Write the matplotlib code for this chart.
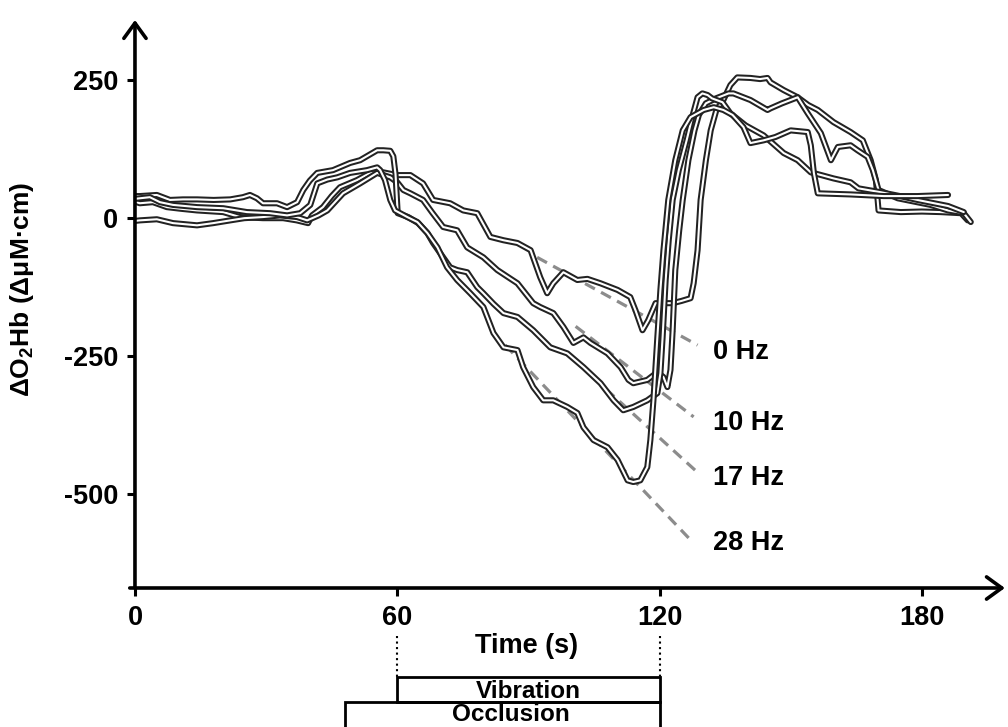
import matplotlib
matplotlib.use('Agg')
import matplotlib.pyplot as plt
from matplotlib.patches import Rectangle

plt.rcParams['font.family'] = ['Liberation Sans', 'DejaVu Sans']
plt.rcParams['font.weight'] = 'bold'
plt.rcParams['mathtext.fontset'] = 'custom'
plt.rcParams['mathtext.rm'] = 'Liberation Sans:bold'
plt.rcParams['mathtext.default'] = 'rm'
plt.rcParams['axes.unicode_minus'] = False

# ---- traces: time (s) and delta O2Hb (uM*cm) per vibration frequency ----
t_0hz = [0, 1.1, 4.1, 7.3, 10.5, 14.2, 20.2, 24, 29.3, 33.9, 37, 39.6, 40.5, 43, 45, 46.9,
         50.8, 53.8, 56.8, 60, 63, 65.9, 68.2, 72.1, 75.1, 78.3, 81.3, 84.3, 87.5, 90.5,
         92.7, 94.3, 95.7, 98, 101.2, 103.5, 106.5, 110.4, 113.3, 114.5, 116.1, 117.4,
         119.1, 123, 125, 127.1, 127.8, 128.7, 129.4, 130.6, 131.7, 133, 134.6, 136.2,
         137.8, 140.8, 143, 144.7, 145.4, 148.4, 151.6, 154, 156.2, 159.8, 163.7, 166.5,
         168.3, 169.5, 170.1, 175.2, 180, 184.3, 189, 190.5]
o2hb_0hz = [30, 27, 29, 20, 17, 14, 11, 2, 0, 0, -4, -9, 5, 20, 40, 56,
            69, 82, 83, 78, 78, 63, 33, 27, 14, 9, -34, -40, -45, -58,
            -107, -136, -118, -98, -112, -110, -118, -130, -143, -167, -203, -185,
            -154, -154, -150, -145, -118, -58, 33, 105, 159, 196, 214, 241,
            255, 254, 252, 254, 246, 232, 219, 205, 196, 174, 156, 141,
            105, 69, 14, 11, 12, 11, 9, -4]

t_10hz = [0, 1.1, 5, 8.7, 14.2, 17.9, 21.8, 25, 29.3, 33.2, 37.1, 39.4, 42, 44, 47.6,
          51.5, 55.4, 58.4, 60, 61.4, 63, 65.9, 68, 70.5, 73.7, 76, 79.7, 82.9, 85, 87.5,
          91.1, 92.7, 95.7, 98, 100.3, 102.6, 104.2, 108.1, 111.1, 112.9, 114, 117.2,
          119.5, 120.9, 121.8, 122.5, 123, 123.6, 124.5, 125.3, 126.6, 128, 129, 130.6,
          132.9, 135.8, 136.9, 140.8, 144.7, 145.4, 148, 151.6, 153.9, 156.9, 159.2,
          160.8, 163.7, 165.3, 167.6, 168.8, 170.1, 174.5, 182, 186, 189.6, 191.2]
o2hb_10hz = [-5, -4, -2, -9, -13, -9, -4, 0, 2, 5, 2, -4, 5, 14, 45,
             63, 82, 74, 65, 51, 45, 33, 10, -16, -22, -53, -71, -94, -105, -118,
             -154, -161, -172, -197, -226, -216, -226, -245, -270, -293, -299, -293,
             -279, -288, -306, -275, -203, -94, -22, 33, 105, 159, 187, 208,
             217, 226, 226, 214, 196, 199, 208, 219, 190, 154, 105,
             129, 132, 123, 111, 87, 51, 36, 24, 14, 9, -7]

t_17hz = [0, 1.1, 5, 8, 11, 14.2, 18, 21.8, 24.7, 26.3, 27.9, 29.3, 32.5, 34.8, 37.1,
          38.5, 40, 41.7, 45.3, 49.2, 51.5, 55.4, 56.8, 58.4, 59.1, 59.6, 60.1, 62.5,
          64.8, 66.9, 68.2, 70.5, 72.1, 73.7, 76, 78.3, 79.7, 82, 84.3, 87.5, 91.1, 95,
          98.9, 102.6, 106.5, 109.5, 111.7, 114, 117.2, 119.5, 120.2, 120.7, 121.4,
          122.1, 123, 124.4, 126.2, 127.6, 128.7, 129.8, 131, 132, 134.4, 136.2, 139.7,
          143.8, 148.4, 151.6, 154.6, 157, 159.8, 163.7, 165.5, 170.6, 175, 179, 186,
          189.6]
o2hb_17hz = [40, 40, 42, 33, 34, 34, 33, 34, 38, 42, 36, 27, 27, 20, 29,
             51, 68, 82, 87, 100, 105, 123, 123, 122, 112, 80, 9, 2,
             -9, -27, -45, -71, -89, -94, -98, -125, -136, -155, -172, -179, -203, -234,
             -245, -270, -299, -330, -348, -342, -330, -317, -281, -216, -112,
             -40, 33, 87, 141, 187, 219, 226, 223, 217, 210, 190, 168,
             150, 118, 105, 83, 78, 72, 65, 54, 47, 40, 33, 22,
             11]

t_28hz = [0, 1.1, 3.4, 5.7, 8.7, 14.2, 20.2, 25.6, 30.9, 34.8, 37.8, 40.1, 41.7, 44,
          46.3, 49.2, 53.1, 55.4, 56.1, 57.2, 58.4, 59.5, 62.3, 64.6, 66.9, 69.2, 71.4,
          73.7, 76.7, 79.7, 82, 84.3, 87.5, 88.8, 91.1, 93.4, 95.7, 98.9, 101.2, 102.6,
          104.9, 108.1, 110.4, 112.7, 114, 115.6, 117.2, 117.9, 118.6, 119.5, 120.2,
          120.9, 122, 123.6, 125.3, 127.1, 130.1, 132.4, 134.6, 136.7, 139.2, 140.8,
          143.8, 146.5, 150, 153.9, 154.6, 155.3, 156.2, 163.7, 171.3, 179, 186]
o2hb_28hz = [35, 36, 38, 29, 24, 20, 18, 11, 9, 5, 9, 24, 63, 70,
             74, 82, 87, 92, 87, 69, 33, 14, 2, -7, -27, -53, -89,
             -112, -136, -161, -208, -234, -239, -270, -306, -330, -330, -342, -353, -379,
             -402, -415, -438, -475, -478, -475, -451, -402, -330, -216, -130,
             -58, 33, 105, 159, 183, 196, 201, 196, 187, 165, 136,
             141, 147, 159, 156, 132, 82, 45, 43, 40, 40, 42]

# linear fits over the occlusion slope: (t_start, t_end), (y_start, y_end)
freq_labels = ['0 Hz', '10 Hz', '17 Hz', '28 Hz']
fit_t = [(92, 128.7), (100.8, 127.8), (98.5, 128.2), (84.7, 127.1)]
fit_y = [(-71, -230), (-196, -360), (-243, -457), (-230, -583)]
label_y = [-243, -371, -471, -589]

vibration_window = (60, 120)
occlusion_window = (48, 120)

fig = plt.figure(figsize=(10.08, 7.27), dpi=100)
ax = fig.add_axes([0.1339, 0.1912, 0.863, 0.7813])
ax.set_xlim(0, 199)
ax.set_ylim(-670, 359)

# dashed fit lines + frequency labels
for (t0, t1), (y0, y1), lab, ly in zip(fit_t, fit_y, freq_labels, label_y):
    ax.plot([t0, t1], [y0, y1], color='#8c8c8c', lw=2.3, ls=(0, (3.5, 2.2)), zorder=2)
    ax.text(132.2, ly, lab, fontsize=19.5, ha='left', va='center', clip_on=False)

# hollow traces: thick dark stroke with a thin white core
for t, v in [(t_0hz, o2hb_0hz), (t_10hz, o2hb_10hz), (t_17hz, o2hb_17hz), (t_28hz, o2hb_28hz)]:
    ax.plot(t, v, color='#222222', lw=4.4, solid_joinstyle='round', solid_capstyle='round', zorder=3)
    ax.plot(t, v, color='white', lw=1.5, solid_joinstyle='round', solid_capstyle='round', zorder=3)

# axes with arrow heads
for s in ax.spines.values():
    s.set_visible(False)
arrow = dict(arrowstyle='->,head_length=0.55,head_width=0.4', lw=2.6, color='black',
             shrinkA=0, shrinkB=0, mutation_scale=20)
ax.annotate('', xy=(0, 1), xytext=(0, 0), xycoords='axes fraction', arrowprops=arrow)
ax.annotate('', xy=(1, 0), xytext=(-0.006, 0), xycoords='axes fraction', arrowprops=arrow)

ax.set_xticks([0, 60, 120, 180])
ax.set_yticks([250, 0, -250, -500])
ax.tick_params(length=6, width=2.2, labelsize=19.5, pad=6)

fig.text(0.0218, 0.6025, r'$\Delta$O$_2$Hb ($\Delta$μM·cm)', rotation=90,
         fontsize=19, ha='center', va='center')
ax.text(89.5, -775, 'Time (s)', fontsize=19.5, ha='center', va='center', clip_on=False)

# protocol bars below the time axis
for x in vibration_window:
    ax.plot([x, x], [-757, -832], ls=':', color='black', lw=1.5, clip_on=False)
ax.add_patch(Rectangle((vibration_window[0], -877), vibration_window[1] - vibration_window[0], 45,
                       fill=False, lw=2, ec='black', clip_on=False))
ax.add_patch(Rectangle((occlusion_window[0], -940), occlusion_window[1] - occlusion_window[0], 63,
                       fill=False, lw=2, ec='black', clip_on=False))
ax.text(sum(vibration_window) / 2, -870, 'Vibration', fontsize=17.5, ha='center', va='baseline', clip_on=False)
ax.text(sum(occlusion_window) / 2 + 2, -920, 'Occlusion', fontsize=17.5, ha='center', va='bottom', clip_on=False)

fig.savefig('out.png', dpi=100)
